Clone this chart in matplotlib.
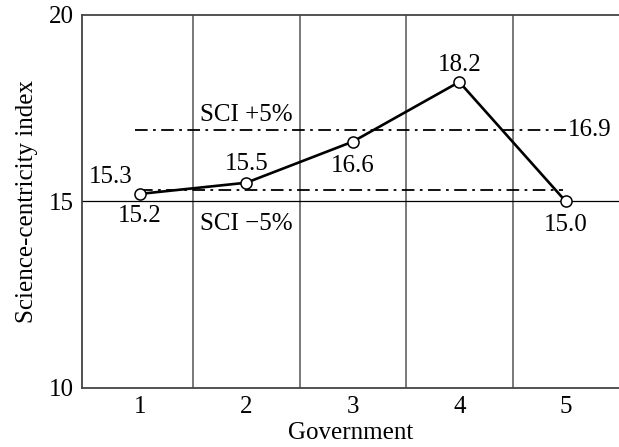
import matplotlib
matplotlib.use("Agg")
from matplotlib import pyplot as plt

# government number and science-centricity index
govs = [1, 2, 3, 4, 5]
sci = [15.2, 15.5, 16.6, 18.2, 15.0]
upper = 16.9   # SCI +5%
lower = 15.3   # SCI -5%
base = 15.0

plt.rcParams['font.family'] = ['Liberation Serif', 'DejaVu Serif']

fig = plt.figure(figsize=(6.19, 4.47), dpi=100)
ax = fig.add_axes([0.133, 0.132, 0.867, 0.835])

ax.set_xlim(0.46, 5.5)
ax.set_ylim(10, 20)

# vertical separators between governments
for xv in [1.5, 2.5, 3.5, 4.5]:
    ax.axvline(xv, color='#555555', lw=1.1, zorder=1)
ax.axhline(base, color='black', lw=0.9, zorder=1)

# +/-5% reference lines
ax.plot([0.95, 5.0], [upper, upper], color='black', lw=1.3, dashes=[7, 3, 1.5, 3], zorder=2)
ax.plot([1.0, 4.97], [lower, lower], color='black', lw=1.3, dashes=[7, 3, 1.5, 3], zorder=2)

ax.plot(govs, sci, '-o', color='black', lw=1.9, ms=8, mfc='white', mec='black', mew=1.1, zorder=3)

fs = 18
ax.text(0.93, lower + 0.06, '15.3', fontsize=fs, ha='right', va='bottom')
ax.text(1.0, sci[0] - 0.3, '15.2', fontsize=fs, ha='center', va='top')
ax.text(2.0, sci[1] + 0.2, '15.5', fontsize=fs, ha='center', va='bottom')
ax.text(3.0, sci[2] - 0.35, '16.6', fontsize=fs, ha='center', va='top')
ax.text(4.0, sci[3] + 0.15, '18.2', fontsize=fs, ha='center', va='bottom')
ax.text(5.0, sci[4] - 0.35, '15.0', fontsize=fs, ha='center', va='top')
ax.text(5.02, upper, '16.9', fontsize=fs, ha='left', va='center')
ax.text(2.0, upper + 0.12, 'SCI +5%', fontsize=fs, ha='center', va='bottom')
ax.text(2.0, base - 0.3, 'SCI \u22125%', fontsize=fs, ha='center', va='top')

ax.set_xticks(govs)
ax.set_yticks([10, 15, 20])
ax.tick_params(length=0, labelsize=fs, pad=6)
ax.set_xlabel('Government', fontsize=fs, labelpad=3)
ax.set_ylabel('Science-centricity index', fontsize=fs, labelpad=8)

for s in ax.spines.values():
    s.set_color('#444444')
    s.set_linewidth(1.3)
ax.spines['right'].set_visible(False)

plt.savefig('out.png', dpi=100)
